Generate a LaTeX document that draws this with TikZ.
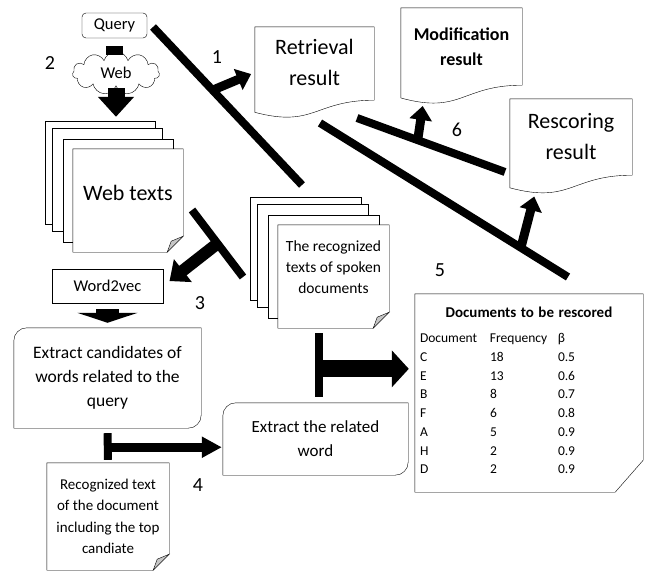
\documentclass[tikz,border=0pt]{standalone}
\usepackage{fontspec}
\setmainfont{Carlito}
\usetikzlibrary{arrows.meta,shapes.symbols,calc,backgrounds}

\newcommand\fs[2]{\fontsize{#1}{#2}\selectfont}
% box with rounded top left and bottom right corners
\newcommand\diagframe[1]{\draw (#1.west) [rounded corners=13pt] |- (#1.north) [sharp corners] -| (#1.east) [rounded corners=13pt] |- (#1.south) [sharp corners] -| (#1.west) -- cycle;}
% document: the node is the square part, the wave hangs below it
\newcommand\wavedoc[1]{\draw let \p1=(#1.north west), \p2=(#1.south east) in
  (\p1) -- (\x2,\y1) -- (\p2)
  .. controls ({((\x1)+(\x2))/2},\y2) and ({((\x1)+(\x2))/2},{(\y2)-0.38*((\y1)-(\y2))}) .. (\x1,{(\y2)-0.165*((\y1)-(\y2))}) -- cycle;}
% page with folded corner
\newcommand\foldpage[1]{%
  \draw let \p1=(#1.north west), \p2=(#1.south east) in (\p1) -- (\x2,\y1) -- (\x2,{(\y2)+16pt}) -- ({(\x2)-16pt},\y2) -- (\x1,\y2) -- cycle;
  \filldraw[fill=gray!45] let \p2=(#1.south east) in ({(\x2)-16pt},\y2) -- ({(\x2)-12pt},{(\y2)+11pt}) -- (\x2,{(\y2)+16pt}) -- cycle;}
% page with cut corner
\newcommand\cutpage[1]{\draw let \p1=(#1.north west), \p2=(#1.south east) in (\p1) -- (\x2,\y1) -- (\x2,{(\y2)+32pt}) -- ({(\x2)-28pt},\y2) -- (\x1,\y2) -- cycle;}

\tikzset{
  page/.style={fill=white,minimum width=110pt,minimum height=103pt},
  bar/.style={line width=8pt},
  blockarrow/.style n args={3}{line width=#1pt,-{Triangle[width=#2pt,length=#3pt]}},
  num/.style={font=\fs{20}{24}},
}

\begin{document}
\begin{tikzpicture}[x=1pt,y=-1pt,every node/.style={align=center,inner sep=1pt}]
\useasboundingbox (0,0) rectangle (649,573);

% left column
\node[draw,rounded corners=4pt,minimum width=65pt,minimum height=25pt,font=\fs{16.5}{19}] (query) at (114.5,25.5) {Query};
\node[cloud,draw,fill=white,cloud puffs=11,aspect=2,minimum width=87pt,minimum height=43pt,font=\fs{16.5}{19}] (cloud) at (116,73) {Web};
\node[page,font=\fs{22}{26},text height=10pt,text depth=10pt] (webtexts) at (128,200.5) {Web texts};
\node[draw,minimum width=111pt,minimum height=34pt,font=\fs{16.5}{19}] (w2v) at (107.5,286) {Word2vec};
\node[minimum width=187pt,minimum height=100pt,font=\fs{17.5}{24}] (cand) at (107.5,378) {Extract candidates of\\words related to the\\query};
\node[page,minimum width=122pt,minimum height=107pt,font=\fs{15}{21.5}] (rectext) at (108,516.5) {Recognized text\\of the document\\including the top\\candiate};

% middle
\node[page,minimum width=111pt,font=\fs{15.5}{21},text depth=18pt] (spoken) at (333.5,276.5) {The recognized\\texts of spoken\\documents};
\node[minimum width=185pt,minimum height=72pt,font=\fs{17}{24}] (related) at (315.5,439) {Extract the related\\word};

% results
\node[minimum width=119pt,minimum height=73pt,font=\fs{22}{31},text depth=2pt] (retr) at (314.5,63.5) {Retrieval\\result};
\node[minimum width=121pt,minimum height=77pt,font=\fs{18}{25}\bfseries] (modif) at (461.5,46.5) {Modification\\result};
\node[minimum width=122pt,minimum height=76pt,font=\fs{22}{31}] (rescor) at (571,137) {Rescoring\\result};
\node[minimum width=228pt,minimum height=198pt,text width=218pt,align=left,font=\fs{13.5}{18.7}] (rescored) at (529,393) {%
  \centering{\fs{15}{18}\bfseries Documents to be rescored}\par\vspace{7pt}
  \raggedright\setlength\tabcolsep{0pt}%
  \begin{tabular}[t]{p{70pt}p{68pt}l}
  Document & Frequency & β\\
  C & 18 & 0.5\\
  E & 13 & 0.6\\
  B & 8 & 0.7\\
  F & 6 & 0.8\\
  A & 5 & 0.9\\
  H & 2 & 0.9\\
  D & 2 & 0.9
  \end{tabular}\par};

% outlines
\foldpage{webtexts}
\foldpage{spoken}
\foldpage{rectext}
\diagframe{cand}
\diagframe{related}
\wavedoc{retr}
\wavedoc{modif}
\wavedoc{rescor}
\cutpage{rescored}
\begin{pgfonlayer}{background}
\foreach \n in {webtexts,spoken}
  \foreach \s in {28,21,10}
    \draw[fill=white] ([shift={(-\s,-\s)}]\n.north west) rectangle ([shift={(-\s,-\s)}]\n.south east);
\end{pgfonlayer}

% step numbers
\node[num] (n1) at (217,57) {1};
\node[num] (n2) at (50,63) {2};
\node[num] (n3) at (200,303) {3};
\node[num] (n4) at (198,485) {4};
\node[num] (n5) at (440,270) {5};
\node[num] (n6) at (457,130) {6};

% 1
\coordinate (r1a) at (153,27);
\coordinate (r1b) at (302,185);
\draw[bar] (r1a) -- coordinate[pos=0.4] (r1m) (r1b);
\draw[blockarrow={9}{22}{14},shorten >=4pt] (r1m) -- ([yshift=-9pt]retr.west);
% 2
\draw[line width=17pt,shorten <=8pt] (query.south) -- ([yshift=-4pt]query.south |- cloud.north);
\draw[blockarrow={17}{35}{20},shorten <=2pt,shorten >=32pt] (cloud.south) -- (cloud.south |- webtexts.north);
% 3
\coordinate (r3a) at (192,210);
\coordinate (r3b) at (243,277);
\draw[bar] (r3a) -- coordinate[pos=0.5] (r3m) (r3b);
\draw[blockarrow={12}{28}{17},shorten >=8pt] (r3m) -- (w2v.east);
\draw[blockarrow={23}{60}{10},shorten <=6pt,shorten >=5pt] (w2v) -- (cand);
% 4
\draw[bar,shorten <=5pt,shorten >=3pt] (cand.south) -- coordinate[pos=0.55] (r4m) (rectext.north);
\draw[blockarrow={9}{20}{20},shorten >=1pt] (r4m) -- (r4m -| related.west);
% 5
\coordinate (r5a) at (319,333);
\coordinate (r5b) at (319,397);
\draw[bar] (r5a) -- coordinate[pos=0.56] (r5m) (r5b);
\draw[blockarrow={17}{36}{17},shorten >=6pt] (r5m) -- (r5m -| rescored.west);
\coordinate (r5c) at (320,123);
\coordinate (r5d) at (568,277);
\draw[bar] (r5c) -- coordinate[pos=0.81] (r5e) (r5d);
\draw[blockarrow={9}{22}{14},shorten >=22pt] (r5e) -- ([xshift=30pt]rescor.south west);
% 6
\coordinate (r6a) at (357,118);
\coordinate (r6b) at (505,172);
\draw[bar] (r6a) -- coordinate[pos=0.41] (r6m) (r6b);
\draw[blockarrow={9}{22}{14},shorten >=21pt] (r6m) -- ([xshift=25pt]modif.south west);
\end{tikzpicture}
\end{document}
